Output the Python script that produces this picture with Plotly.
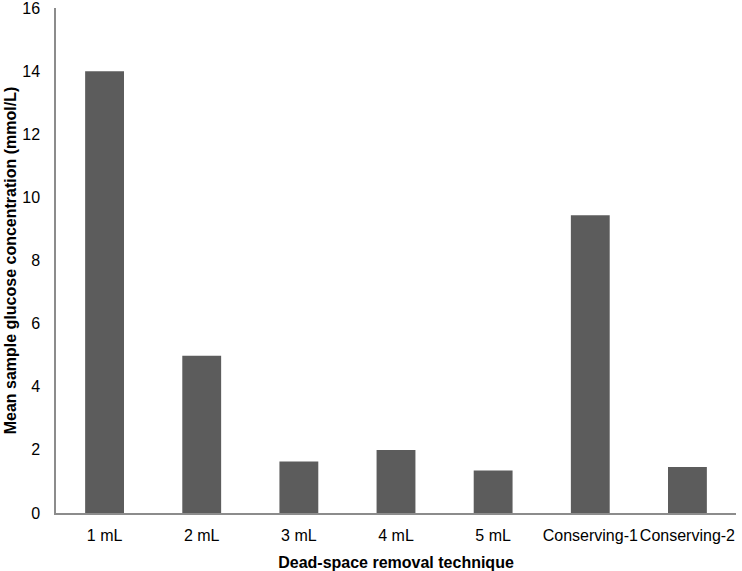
import plotly.graph_objects as go

techniques = ["1 mL", "2 mL", "3 mL", "4 mL", "5 mL", "Conserving-1", "Conserving-2"]
mean_glucose = [14.0, 4.98, 1.63, 2.0, 1.35, 9.43, 1.46]
y_ticks = [0, 2, 4, 6, 8, 10, 12, 14, 16]

fig = go.Figure()
fig.add_trace(
    go.Bar(
        x=techniques,
        y=mean_glucose,
        marker=dict(color="#5c5c5c", line=dict(width=0)),
    )
)

fig.update_layout(
    width=742,
    height=571,
    template="plotly_white",
    paper_bgcolor="white",
    plot_bgcolor="white",
    bargap=0.6,
    showlegend=False,
    font=dict(family="Liberation Sans, Arial, sans-serif", size=16, color="black"),
    margin=dict(l=56, r=6, t=8, b=58),
    xaxis=dict(
        title=dict(text="<b>Dead-space removal technique</b>", standoff=15,
                   font=dict(size=16)),
        showline=True, linecolor="#8c8c8c", linewidth=1.5,
        showgrid=False, ticks="", ticklabelstandoff=7, tickangle=0,
        zeroline=False, automargin=False,
        tickfont=dict(size=16),
    ),
    yaxis=dict(
        title=dict(text="<b>Mean sample glucose concentration (mmol/L)</b>", standoff=2,
                   font=dict(size=16)),
        range=[0, 16], tickvals=y_ticks,
        showline=True, linecolor="#8c8c8c", linewidth=1.5,
        showgrid=False, ticks="", ticklabelstandoff=11,
        zeroline=False, automargin=False, ticklabeloverflow="allow",
        tickfont=dict(size=16),
    ),
)

# page body has a default 8px margin; drop it so the figure fills the window
fig.write_html("out.html", config={"displayModeBar": False},
               post_script="document.body.style.margin='0';")
